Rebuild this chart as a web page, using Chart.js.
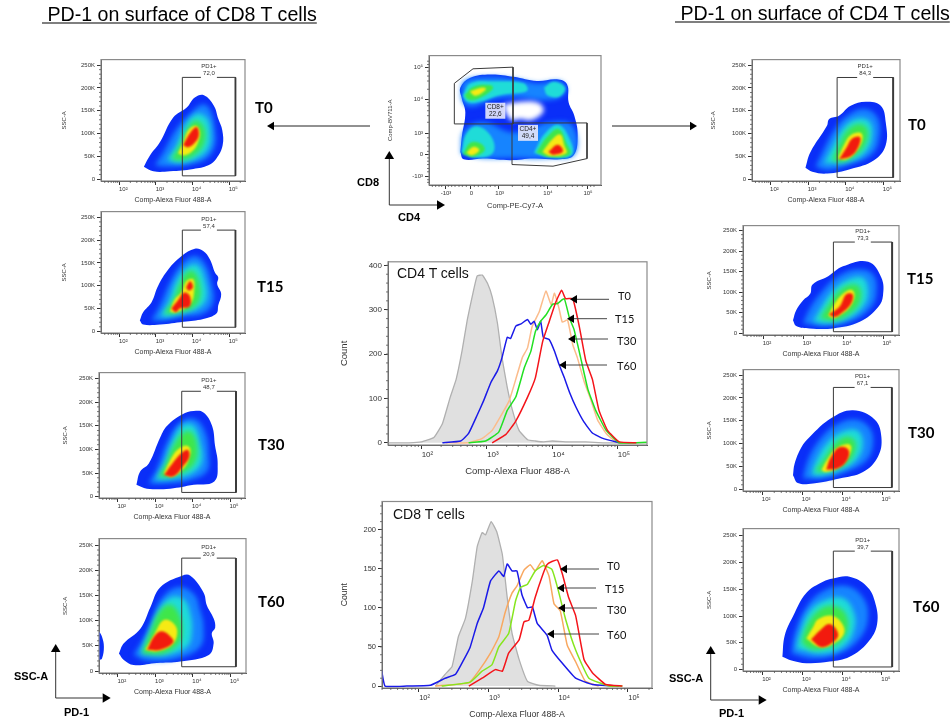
<!DOCTYPE html>
<html><head><meta charset="utf-8">
<script src="https://cdn.jsdelivr.net/npm/chart.js@4/dist/chart.umd.js"></script>
<style>
html,body{margin:0;padding:0;background:#fff;width:952px;height:725px;overflow:hidden}
#page{position:relative;width:952px;height:725px}
canvas{position:absolute;filter:blur(.3px)}
.t{position:absolute;white-space:pre;line-height:1;transform:translateY(-50%);color:#000}
.head{font:19.6px "Liberation Sans";text-decoration:underline;text-underline-offset:2px}
.time{font:bold 15px Lato}
.arrowlab{font:bold 11px "Liberation Sans"}
.hist{font:11px Lato;color:#111}
.plot{font:14px "Liberation Sans";color:#111}
svg{position:absolute;left:0;top:0;z-index:5}
.t{z-index:6}
</style></head><body><div id="page"></div>
<script>
// ---------- values: x = log10(PD-1 fluorescence), y = SSC-A in thousands ----------
const xTickExponents=[2,3,4,5];
const xTickLabels=['10²','10³','10⁴','10⁵'];
const ssTicks=[0,50,100,150,200,250];
const ssTickLabels=['0','50K','100K','150K','200K','250K'];

const cd8T0=[
[[2.67,27],[2.84,52],[3.11,81],[3.47,135],[3.84,157],[4.06,179],[4.31,184],[4.58,161],[4.70,132],[4.81,107],[4.82,74],[4.65,45],[4.43,30],[4.02,22],[3.38,17],[2.93,17]],
[[2.97,30],[3.2,59],[3.56,110],[3.97,146],[4.29,164],[4.49,150],[4.61,110],[4.61,74],[4.38,45],[3.93,32],[3.29,27]],
[[3.29,41],[3.56,74],[3.79,117],[4.11,143],[4.38,135],[4.49,103],[4.43,67],[4.11,45],[3.65,36]],
[[3.43,45],[3.65,74],[3.84,107],[4.06,128],[4.29,117],[4.34,88],[4.2,63],[3.88,45],[3.56,41]],
[[3.6,56],[3.75,81],[3.88,107],[4.09,117],[4.2,103],[4.15,81],[4.02,63],[3.79,52]],
[[3.74,74],[3.95,103],[4.11,114],[4.17,96],[4.05,79],[3.88,70]]];
const cd8T15=[
[[2.56,24],[2.65,42],[2.88,64],[3.06,100],[3.34,136],[3.7,165],[4.06,181],[4.29,176],[4.47,158],[4.61,129],[4.7,118],[4.67,104],[4.78,82],[4.7,57],[4.65,39],[4.29,27],[3.75,21],[3.11,15],[2.65,15]],
[[2.88,24],[3.11,57],[3.38,107],[3.7,147],[4.06,165],[4.34,147],[4.52,104],[4.56,64],[4.29,39],[3.75,32],[3.2,24]],
[[3.11,32],[3.34,64],[3.56,111],[3.88,143],[4.15,145],[4.34,111],[4.38,71],[4.15,50],[3.75,41],[3.29,32]],
[[3.22,39],[3.47,68],[3.65,104],[3.88,132],[4.06,129],[4.2,100],[4.18,68],[3.97,50],[3.61,41]],
[[3.38,44],[3.52,71],[3.7,86],[3.84,111],[4.02,114],[4.04,86],[3.97,64],[3.79,51],[3.52,41]],
[[3.42,50],[3.6,68],[3.77,85],[3.92,78],[3.92,55],[3.65,50],[3.54,42]],
[[3.82,96],[3.93,110],[4.01,97],[3.9,89]]];
const cd8T30=[
[[2.5,25],[2.6,53],[2.83,70],[3.14,126],[3.32,150],[3.72,174],[4.03,181],[4.29,178],[4.52,150],[4.6,108],[4.67,70],[4.58,32],[4.03,25],[3.4,17],[2.78,17]],
[[2.83,28],[3.05,60],[3.32,115],[3.67,157],[4.07,164],[4.34,136],[4.43,88],[4.38,53],[3.94,35],[3.32,28]],
[[3.0,35],[3.23,67],[3.45,115],[3.72,150],[4.03,150],[4.2,115],[4.25,74],[3.98,49],[3.49,39]],
[[3.09,42],[3.27,67],[3.49,108],[3.76,136],[3.98,136],[4.12,108],[4.07,74],[3.8,53],[3.4,42]],
[[3.23,49],[3.4,77],[3.58,98],[3.8,108],[3.94,101],[3.89,77],[3.76,60],[3.45,42]],
[[3.24,46],[3.43,67],[3.67,90],[3.87,99],[3.91,84],[3.74,64],[3.49,43]]];
const cd8T60=[
[[2.03,35],[2.16,55],[2.6,84],[2.87,127],[3.13,166],[3.71,189],[3.93,189],[4.28,156],[4.37,130],[4.55,104],[4.59,86],[4.5,75],[4.55,55],[4.42,32],[3.66,19],[3.04,16],[2.42,12],[2.16,22]],
[[2.42,32],[2.65,61],[2.87,94],[3.13,140],[3.58,166],[4.02,153],[4.19,120],[4.28,88],[4.19,48],[3.58,25],[2.78,21]],
[[2.6,35],[2.82,75],[3.09,120],[3.4,146],[3.75,143],[3.93,114],[3.97,75],[3.84,48],[3.31,32]],
[[2.65,35],[2.87,78],[3.13,120],[3.4,132],[3.62,114],[3.71,81],[3.62,55],[3.22,35]],
[[2.73,42],[2.96,71],[3.22,101],[3.49,94],[3.58,75],[3.44,52],[3.04,39]],
[[2.78,42],[2.98,70],[3.18,79],[3.42,67],[3.47,56],[3.13,42]]];
const cd8T60Negatives=[[1.45,78],[1.5,78],[1.58,68],[1.63,48],[1.58,25],[1.5,22],[1.45,22]];
const cd4T0=[
[[2.93,25],[3.06,59],[3.5,117],[3.56,132],[3.82,139],[4.13,161],[4.53,170],[4.93,161],[5.06,125],[5.06,74],[4.75,41],[4.13,22],[3.51,12],[3.11,16]],
[[3.2,27],[3.38,59],[3.69,107],[4.04,139],[4.49,154],[4.84,135],[4.88,88],[4.66,52],[4.04,30],[3.51,20]],
[[3.42,34],[3.64,70],[3.91,110],[4.26,132],[4.62,128],[4.71,96],[4.53,59],[4.04,38]],
[[3.64,41],[3.82,74],[4.04,107],[4.35,121],[4.57,110],[4.53,78],[4.26,52],[3.91,38]],
[[3.79,45],[3.95,74],[4.13,96],[4.4,101],[4.44,85],[4.26,59],[4.0,43]],
[[3.82,43],[4.02,69],[4.17,89],[4.38,92],[4.32,68],[4.13,50]]];
const cd4T15=[
[[2.75,32],[2.83,56],[3.0,80],[3.18,96],[3.24,119],[3.63,139],[4.0,163],[4.63,174],[4.96,135],[5.0,92],[4.88,64],[4.42,28],[3.75,12],[3.17,12],[2.83,18]],
[[3.0,24],[3.17,60],[3.46,100],[3.83,135],[4.33,155],[4.75,143],[4.83,96],[4.67,60],[4.17,28],[3.58,18]],
[[3.25,29],[3.46,64],[3.75,104],[4.13,131],[4.5,135],[4.63,100],[4.5,64],[4.08,34],[3.58,24]],
[[3.42,36],[3.63,68],[3.92,104],[4.21,119],[4.42,111],[4.42,76],[4.17,48],[3.83,32]],
[[3.63,44],[3.79,72],[4.0,96],[4.21,106],[4.29,92],[4.17,64],[3.92,44],[3.75,37]],
[[3.65,46],[3.92,66],[4.08,95],[4.24,95],[4.2,72],[3.96,49],[3.79,40]]];
const cd4T30=[
[[2.77,31],[2.81,56],[2.98,92],[3.18,114],[3.73,156],[4.27,173],[4.81,153],[4.98,114],[4.89,71],[4.52,38],[3.93,24],[3.27,13],[2.89,14]],
[[3.02,24],[3.14,63],[3.39,103],[3.81,139],[4.31,153],[4.68,135],[4.77,99],[4.6,63],[4.1,38],[3.52,24]],
[[3.23,31],[3.35,63],[3.64,103],[4.02,127],[4.39,128],[4.52,99],[4.35,63],[3.93,42],[3.52,31]],
[[3.31,38],[3.52,63],[3.81,99],[4.1,115],[4.31,107],[4.31,81],[4.1,56],[3.73,42]],
[[3.48,42],[3.64,67],[3.85,89],[4.14,99],[4.23,91],[4.1,63],[3.85,45],[3.6,38]],
[[3.6,43],[3.71,69],[3.93,92],[4.15,87],[4.13,65],[3.89,46]]];
const cd4T60=[
[[2.5,24],[2.56,64],[2.77,100],[3.1,143],[3.52,164],[3.77,170],[4.19,173],[4.61,156],[4.82,128],[4.88,85],[4.65,51],[4.19,24],[3.69,15],[3.1,12],[2.73,17]],
[[2.73,30],[2.81,67],[3.1,116],[3.52,146],[4.11,156],[4.53,134],[4.65,97],[4.44,58],[3.94,30],[3.27,21]],
[[2.85,39],[2.94,67],[3.19,110],[3.61,131],[4.03,133],[4.28,110],[4.32,79],[4.07,45],[3.52,30]],
[[2.98,51],[3.1,79],[3.36,107],[3.69,119],[4.03,110],[4.15,79],[3.94,51],[3.52,39],[3.19,39]],
[[3.1,58],[3.27,79],[3.4,94],[3.77,100],[4.03,82],[4.03,64],[3.77,48],[3.44,42]],
[[3.22,56],[3.44,73],[3.69,85],[3.9,67],[3.79,52],[3.48,42]]];

// CD4 T cells histogram
const cd4HistGrayX=[1.49,1.81,2.0,2.19,2.32,2.44,2.53,2.62,2.70,2.78,2.85,2.93,3.01,3.08,3.16,3.23,3.31,3.39,3.49,3.62,3.74,3.87,4.0,4.26,4.51,4.77,5.02,5.44];
const cd4HistGrayY=[0,0,2,12,43,103,143,207,277,333,376,378,359,329,270,192,125,73,28,7,4,2,4,2,2,0,0,0];
const cd4HistBlueX=[2.32,2.60,2.72,2.85,2.95,3.06,3.16,3.23,3.31,3.36,3.44,3.52,3.62,3.67,3.72,3.77,3.82,3.86,3.95,4.03,4.10,4.18,4.26,4.36,4.48,4.61,4.77,5.02];
const cd4HistBlueY=[0,4,21,62,95,136,162,192,238,235,263,268,278,267,274,255,274,238,233,207,177,147,114,80,47,22,10,0];
const cd4HistOrangeX=[2.37,2.72,2.93,3.08,3.23,3.34,3.44,3.54,3.62,3.69,3.80,3.90,3.98,4.03,4.10,4.15,4.23,4.31,4.38,4.48,4.59,4.69,4.82,4.97,5.12];
const cd4HistOrangeY=[0,0,10,28,65,95,143,192,214,262,296,342,311,337,303,272,277,221,192,140,95,51,21,2,0];
const cd4HistGreenX=[2.72,2.98,3.18,3.31,3.44,3.57,3.67,3.74,3.82,3.90,4.0,4.08,4.18,4.26,4.33,4.43,4.54,4.66,4.82,5.02,5.28,5.44];
const cd4HistGreenY=[0,4,24,73,103,169,206,251,274,288,312,314,325,281,255,192,121,73,28,0,0,1];
const cd4HistRedX=[3.08,3.29,3.44,3.62,3.74,3.85,3.95,4.05,4.14,4.20,4.31,4.41,4.51,4.61,4.71,4.84,5.02,5.28];
const cd4HistRedY=[0,19,49,103,147,228,273,317,344,325,325,262,184,143,73,28,2,0];
// CD8 T cells histogram
const cd8HistGrayX=[2.24,2.38,2.48,2.57,2.67,2.77,2.84,2.91,2.96,3.04,3.12,3.20,3.27,3.34,3.44,3.56,3.72,3.96];
const cd8HistGrayY=[0,15,25,63,86,134,178,196,193,210,197,168,113,67,34,6,1,0];
const cd8HistBlueX=[1.47,1.52,1.83,2.17,2.38,2.53,2.65,2.74,2.84,2.93,3.03,3.15,3.22,3.27,3.34,3.41,3.48,3.56,3.63,3.70,3.84,3.91,4.06,4.25,4.49,4.87];
const cd8HistBlueY=[20,0,0,1,10,15,34,50,80,100,134,147,140,156,147,147,117,100,101,80,65,46,29,10,2,0];
const cd8HistOrangeX=[2.24,2.72,2.86,3.03,3.15,3.24,3.34,3.41,3.51,3.60,3.67,3.77,3.87,3.94,4.03,4.13,4.25,4.39,4.58];
const cd8HistOrangeY=[0,4,19,42,63,94,119,128,148,155,147,160,140,105,96,52,31,6,0];
const cd8HistGreenX=[2.33,2.74,2.91,3.05,3.15,3.29,3.39,3.46,3.56,3.67,3.79,3.91,3.99,4.11,4.25,4.44,4.73,4.92];
const cd8HistGreenY=[0,5,19,27,50,67,109,126,130,147,154,149,126,84,46,10,0,0];
const cd8HistRedX=[2.72,2.91,3.10,3.20,3.29,3.44,3.51,3.58,3.67,3.77,3.84,3.91,3.99,4.06,4.15,4.25,4.37,4.49,4.68,4.92];
const cd8HistRedY=[0,10,21,19,42,59,82,84,113,140,155,159,161,143,113,90,34,17,2,0];

// CD4 / CD8 gating plot, biexponential display channels
const gateTickChannelsX=[48,124,209,354,474];
const gateTickLabelsX=['-10³','0','10³','10⁴','10⁵'];
const gateTickChannelsY=[25,92,155,260,355];
const gateTickLabelsY=['-10³','0','10³','10⁴','10⁵'];
const gateOuter=[[94,100],[99,150],[109,220],[99,260],[94,295],[124,325],[184,335],[254,328],[324,315],[384,320],[414,305],[419,250],[436,210],[446,150],[434,90],[394,78],[314,80],[244,75],[164,80],[104,78]];
const gateHole=[[224,244],[274,252],[326,250],[344,230],[336,213],[304,196],[274,200],[249,196],[232,215]];
const gateLightTop=[[96,270],[106,315],[184,328],[264,320],[324,308],[394,314],[412,285],[370,258],[264,265],[194,260],[134,238],[106,245]];
const gateLightBottom=[[96,95],[106,165],[164,190],[244,160],[304,170],[364,190],[430,180],[438,95],[364,82],[244,82],[164,82]];
const gateCyan=[
[[101,270],[124,308],[194,314],[284,308],[294,285],[214,272],[144,250],[114,252]],
[[345,295],[374,313],[408,295],[392,268],[355,272]],
[[97,98],[112,155],[144,178],[188,145],[192,98],[144,83]],
[[315,98],[347,155],[389,182],[424,135],[428,90],[364,84]]];
const gateGreen=[
[[107,272],[134,298],[186,302],[191,290],[149,262],[119,258]],
[[102,93],[124,128],[156,125],[167,105],[134,86]],
[[322,98],[352,143],[389,170],[412,128],[423,93],[364,85]]];
const gateYellow=[
[[122,283],[159,295],[171,290],[139,270]],
[[112,98],[134,116],[151,106],[129,90]],
[[340,100],[369,137],[394,153],[406,120],[412,96],[364,88]]];
const gateRed=[[358,100],[386,122],[402,102],[374,92]];
const cd8Gate=[[76,185],[76,308],[132,352],[252,357],[252,185]];
const cd4Gate=[[249,188],[474,188],[474,80],[372,57],[249,62]];

// ---------- drawing ----------
const page=document.getElementById('page');
const LEVEL_COLORS=['#0a2ef8','#1684ff','#1fdcd8','#3fe64a','#f6ea14','#f21a0e'];
const TICK_FONT='"Liberation Sans"';

function addCanvas(box,lp,bp){
  const c=document.createElement('canvas');
  const w=box[2]-box[0]+lp+4,h=box[3]-box[1]+4+bp;
  c.width=Math.round(w);c.height=Math.round(h);
  c.style.left=(box[0]-lp)+'px';c.style.top=(box[1]-4)+'px';
  c.style.width=c.width+'px';c.style.height=c.height+'px';
  page.appendChild(c);
  return c.getContext('2d');
}
const frame={id:'frame',afterDraw(ch){
  const {ctx,chartArea:a}=ch;
  ctx.save();ctx.strokeStyle='#8a8a8a';ctx.lineWidth=1.2;
  ctx.strokeRect(a.left,a.top,a.right-a.left,a.bottom-a.top);
  const mx=ch.options.plugins.frame.minorX||[],my=ch.options.plugins.frame.minorY||[];
  ctx.strokeStyle='#555';ctx.lineWidth=.8;ctx.beginPath();
  mx.forEach(v=>{const p=ch.scales.x.getPixelForValue(v);if(p>=a.left&&p<=a.right){ctx.moveTo(p,a.bottom);ctx.lineTo(p,a.bottom+2);}});
  my.forEach(v=>{const p=ch.scales.y.getPixelForValue(v);if(p>=a.top&&p<=a.bottom){ctx.moveTo(a.left,p);ctx.lineTo(a.left-2,p);}});
  ctx.stroke();ctx.restore();
}};
const blur={id:'blur',
  beforeDatasetsDraw(ch,_,o){ch.ctx.save();ch.ctx.filter='blur(.5px)';},
  afterDatasetDraw(ch,args,o){
    if(args.index===o.outerAt)ch.ctx.filter='blur(2.4px)';
    if(args.index===o.fineAt)ch.ctx.filter='blur(1.3px)';
    if(args.index===o.stopAt)ch.ctx.filter='none';
  },
  afterDatasetsDraw(ch){ch.ctx.restore();}
};
const gateText={id:'gateText',afterDatasetsDraw(ch,_,o){
  if(!o.lines)return;const {ctx}=ch;ctx.save();
  const cx=(ch.scales.x.getPixelForValue(o.x0)+ch.scales.x.getPixelForValue(o.x1))/2,ty=ch.scales.y.getPixelForValue(o.yTop);
  ctx.fillStyle='#fff';ctx.fillRect(cx-8,ty-1.5,16,3);
  ctx.fillStyle='#333';ctx.font='6px '+TICK_FONT;ctx.textAlign='center';ctx.textBaseline='middle';
  ctx.fillText(o.lines[0],cx,ty-11);ctx.fillText(o.lines[1],cx,ty-4);
  ctx.restore();
}};
const minorDecades=[];
[1,2,3,4,5].forEach(d=>{for(let m=2;m<10;m++)minorDecades.push(m*10**d);});

function logAxis(minE,maxE,title,fs,tfs,off){
  return {type:'logarithmic',min:10**minE,max:10**maxE,
    title:{display:true,text:title,color:'#333',font:{family:TICK_FONT,size:tfs},padding:0},
    afterBuildTicks:s=>{s.ticks=xTickExponents.map(e=>({value:10**e,major:true}));},
    afterFit:s=>{s.height=s.options.fixedH;},
    grid:{drawOnChartArea:false,tickLength:4,tickColor:'#333',tickWidth:1},
    border:{color:'#444',width:1},
    ticks:{autoSkip:false,maxRotation:0,padding:1,labelOffset:off,color:'#333',font:{family:TICK_FONT,size:fs},
      callback:v=>xTickLabels[xTickExponents.indexOf(Math.round(Math.log10(v)))]}};
}
function valueAxis(min,max,values,labels,title,fs,tfs,lp){
  return {type:'linear',min,max,
    title:{display:true,text:title,color:'#333',font:{family:TICK_FONT,size:tfs},padding:0},
    afterBuildTicks:s=>{s.ticks=values.map(v=>({value:v}));},
    afterFit:s=>{s.width=lp;},
    grid:{drawOnChartArea:false,tickLength:4,tickColor:'#333',tickWidth:1},
    border:{color:'#444',width:1},
    ticks:{autoSkip:false,padding:2,color:'#333',font:{family:TICK_FONT,size:fs},
      callback:v=>labels[values.indexOf(v)]}};
}
const poly=(pts,color)=>({data:[...pts,pts[0]].map(([e,k])=>({x:10**e,y:k})),showLine:true,fill:'shape',
  backgroundColor:color,borderWidth:0,pointRadius:0,tension:.4});

function density(p){
  const lp=p.lp||40,bp=p.bp||23;
  const ctx=addCanvas(p.box,lp,bp);
  const gate=[[p.gate[0],p.gate[2]],[p.gate[1],p.gate[2]],[p.gate[1],p.gate[3]],[p.gate[0],p.gate[3]],[p.gate[0],p.gate[2]]];
  const line=(pts,w)=>({data:pts.map(([e,k])=>({x:10**e,y:k})),showLine:true,fill:false,borderColor:'#3a3a3a',borderWidth:w,pointRadius:0,tension:0});
  const layers=p.levels.map((l,i)=>poly(l,LEVEL_COLORS[Math.min(i,5)]));
  const ds=[line([gate[1],gate[2]],1.8),line(gate,1),...layers.slice().reverse()];
  const outerAt=ds.length-1;
  if(p.extra)ds.push(poly(p.extra,LEVEL_COLORS[0]));
  new Chart(ctx,{type:'scatter',data:{datasets:ds},options:{
    responsive:false,animation:false,events:[],layout:{autoPadding:false,padding:{top:4,right:4}},
    scales:{x:{...logAxis(p.xr[0],p.xr[1],'Comp-Alexa Fluor 488-A',6,7,4),fixedH:bp},
            y:valueAxis(p.yr[0],p.yr[1],ssTicks,ssTickLabels,'SSC-A',6,6,lp)},
    plugins:{legend:{display:false},tooltip:{enabled:false},
      frame:{minorX:minorDecades,minorY:[10,20,30,40,60,70,80,90,110,120,130,140,160,170,180,190,210,220,230,240]},
      blur:{outerAt,fineAt:outerAt-3,stopAt:2},
      gateText:{lines:p.label,x0:10**p.gate[0],x1:10**p.gate[1],yTop:p.gate[2]}}
  },plugins:[blur,frame,gateText]});
}
const panels=[
 {box:[101,58,245,181],xr:[1.5,5.43],yr:[-4.3,262],gate:[3.72,5.17,223,7],label:['PD1+','72,0'],levels:cd8T0},
 {box:[101,209.7,245,333],xr:[1.5,5.43],yr:[-3.6,262.6],gate:[3.72,5.17,222,9],label:['PD1+','57,4'],levels:cd8T15},
 {box:[98.7,371,245,498.3],xr:[1.5,5.40],yr:[-2.8,262.5],gate:[3.71,5.16,223,9],label:['PD1+','48,7'],levels:cd8T30,lp:37},
 {box:[98.7,537.3,245.7,673.3],xr:[1.5,5.41],yr:[-3.9,262.7],gate:[3.7,5.14,224,8.5],label:['PD1+','20,9'],levels:cd8T60,extra:cd8T60Negatives,lp:37},
 {box:[751.7,58.3,899.3,181],xr:[1.51,5.44],yr:[-4.3,262.3],gate:[3.77,5.26,223,3.6],label:['PD1+','84,3'],levels:cd4T0,lp:42},
 {box:[743.3,223.7,899.3,335],xr:[1.5,5.4],yr:[-4,262],gate:[3.76,5.23,222,4],label:['PD1+','73,3'],levels:cd4T15,lp:37},
 {box:[743.3,368,899.3,491],xr:[1.52,5.42],yr:[-3.6,262],gate:[3.78,5.24,223,4],label:['PD1+','67,1'],levels:cd4T30,lp:37},
 {box:[743.3,526.7,899.3,671],xr:[1.51,5.43],yr:[-2.5,263],gate:[3.78,5.26,221,5],label:['PD1+','39,7'],levels:cd4T60,lp:37}
];
panels.forEach(density);

// gating plot (CD4 vs CD8)
(function(){
  const box=[428.7,54.3,600.7,185],lp=42,bp=25;
  const ctx=addCanvas(box,lp,bp);
  const shape=(pts,c)=>({data:[...pts,pts[0]].map(([x,y])=>({x,y})),showLine:true,fill:'shape',backgroundColor:c,borderWidth:0,pointRadius:0,tension:.4});
  const gl=pts=>({data:[...pts,pts[0]].map(([x,y])=>({x,y})),showLine:true,fill:false,borderColor:'#3a3a3a',borderWidth:1,pointRadius:0,tension:0});
  const ds=[gl(cd8Gate),gl(cd4Gate),shape(gateRed,LEVEL_COLORS[5]),
    ...gateYellow.map(s=>shape(s,LEVEL_COLORS[4])),...gateGreen.map(s=>shape(s,LEVEL_COLORS[3])),
    ...gateCyan.map(s=>shape(s,LEVEL_COLORS[2])),shape(gateHole,'#ffffff'),
    shape(gateLightTop,LEVEL_COLORS[1]),shape(gateLightBottom,LEVEL_COLORS[1]),shape(gateOuter,LEVEL_COLORS[0])];
  const gateLabels={id:'gateLabels',afterDatasetsDraw(ch){
    const c=ch.ctx;c.save();c.font='6.5px '+TICK_FONT;c.textAlign='center';c.textBaseline='middle';
    [[199,225,'CD8+','22,6'],[297,158,'CD4+','49,4']].forEach(([x,y,a,b])=>{
      const px=ch.scales.x.getPixelForValue(x),py=ch.scales.y.getPixelForValue(y);
      c.fillStyle='rgba(226,228,250,.92)';c.fillRect(px-10,py-8,20,16);
      c.fillStyle='#222';c.fillText(a,px,py-3.5);c.fillText(b,px,py+3.5);});
    c.restore();}};
  const xa=valueAxis(0,516,gateTickChannelsX,gateTickLabelsX,'Comp-PE-Cy7-A',6,7.5,0);
  xa.afterFit=s=>{s.height=bp;};xa.ticks.labelOffset=1;xa.ticks.padding=1;
  new Chart(ctx,{type:'scatter',data:{datasets:ds},options:{
    responsive:false,animation:false,events:[],layout:{autoPadding:false,padding:{top:4,right:4}},
    scales:{x:xa,y:valueAxis(0,392,gateTickChannelsY,gateTickLabelsY,'Comp-BV711-A',6,6,lp)},
    plugins:{legend:{display:false},tooltip:{enabled:false},
      frame:{minorX:[10,20,30,38,58,68,78,90,100,112,136,148,160,172,184,198,250,280,300,320,335,345,385,410,430,445,460,485,495],minorY:[8,16,40,50,62,72,82,102,118,130,143,190,210,225,240,250,290,315,330,345,365,375]},
      blur:{outerAt:ds.length-1,fineAt:ds.length-4,stopAt:2}}
  },plugins:[blur,frame,gateLabels]});
})();

function histogram(h){
  const ctx=addCanvas(h.box,h.lp,h.bp);
  const s=(xs,ys,col,w,extra)=>Object.assign({data:xs.map((x,i)=>({x:10**x,y:ys[i]})),showLine:true,fill:false,borderColor:col,borderWidth:w,pointRadius:0,tension:.12},extra||{});
  const ds=[s(h.red[0],h.red[1],'#f4141a',1.5),s(h.green[0],h.green[1],h.greenColor,1.5),s(h.blue[0],h.blue[1],'#1a1ae8',1.5),
    s(h.orange[0],h.orange[1],h.orangeColor,1.5),
    s(h.gray[0],h.gray[1],'#b0b0b0',1.3,{fill:'origin',backgroundColor:'#e0e0e0'})];
  new Chart(ctx,{type:'scatter',data:{datasets:ds},options:{
    responsive:false,animation:false,events:[],layout:{autoPadding:false,padding:{top:4,right:4}},
    scales:{x:{...logAxis(h.xr[0],h.xr[1],'Comp-Alexa Fluor 488-A',h.fs,h.tfs,6),fixedH:h.bp},
            y:valueAxis(h.yr[0],h.yr[1],h.yt,h.yt.map(String),'Count',h.fs,h.tfs,h.lp)},
    plugins:{legend:{display:false},tooltip:{enabled:false},frame:{minorX:minorDecades,minorY:h.minorY}}
  },plugins:[frame]});
}
const step=(a,b,d)=>{const r=[];for(let v=a;v<=b;v+=d)r.push(v);return r;};
histogram({box:[387.7,259.3,646.7,445],lp:49,bp:32,fs:8,tfs:9.5,greenColor:'#22e022',orangeColor:'#fbbc8c',xr:[1.49,5.443],yr:[-5,408],yt:[0,100,200,300,400],minorY:step(20,400,20),
  gray:[cd4HistGrayX,cd4HistGrayY],blue:[cd4HistBlueX,cd4HistBlueY],orange:[cd4HistOrangeX,cd4HistOrangeY],green:[cd4HistGreenX,cd4HistGreenY],red:[cd4HistRedX,cd4HistRedY]});
histogram({box:[381.7,499.3,651.7,688.7],lp:43,bp:32,fs:7.5,tfs:8.7,greenColor:'#86e61e',orangeColor:'#f8a860',xr:[1.476,5.344],yr:[-2.5,235.7],yt:[0,50,100,150,200],minorY:step(10,230,10),
  gray:[cd8HistGrayX,cd8HistGrayY],blue:[cd8HistBlueX,cd8HistBlueY],orange:[cd8HistOrangeX,cd8HistOrangeY],green:[cd8HistGreenX,cd8HistGreenY],red:[cd8HistRedX,cd8HistRedY]});

// ---------- text ----------
function text(s,x,y,cls){const d=document.createElement('div');d.className='t '+cls;d.textContent=s;d.style.left=x+'px';d.style.top=y+'px';page.appendChild(d);}
text(' PD-1 on surface of CD8 T cells',42,14,'head');
text(' PD-1 on surface of CD4 T cells',675,13,'head');
[['T0',255,107],['T15',257,286],['T30',258,444],['T60',258,601],['T0',908,124],['T15',907,278],['T30',908,432],['T60',913,606]].forEach(a=>text(a[0],a[1],a[2],'time'));
[['CD8',357,182],['CD4',398,217],['SSC-A',14,676],['PD-1',64,712],['SSC-A',669,678],['PD-1',719,713]].forEach(a=>text(a[0],a[1],a[2],'arrowlab'));
[['T0',618,295],['T15',615,318],['T30',617,340],['T60',617,365],['T0',607,565],['T15',605,588],['T30',607,609],['T60',607,634]].forEach(a=>text(a[0],a[1],a[2],'hist'));
text('CD4 T cells',397,273,'plot');text('CD8 T cells',393,514,'plot');

// ---------- arrows ----------
const NS='http://www.w3.org/2000/svg';
const svg=document.createElementNS(NS,'svg');svg.setAttribute('width',952);svg.setAttribute('height',725);page.appendChild(svg);
function arrow(x1,y1,x2,y2,sz,col){
  const l=document.createElementNS(NS,'line');
  const dx=Math.sign(x2-x1),dy=Math.sign(y2-y1);
  l.setAttribute('x1',x1);l.setAttribute('y1',y1);l.setAttribute('x2',x2-dx*sz);l.setAttribute('y2',y2-dy*sz);
  l.setAttribute('stroke',col);l.setAttribute('stroke-width',1);svg.appendChild(l);
  const p=document.createElementNS(NS,'polygon');const w=sz*.6;
  const pts=dx?[[x2,y2],[x2-dx*sz,y2-w],[x2-dx*sz,y2+w]]:[[x2,y2],[x2-w,y2-dy*sz],[x2+w,y2-dy*sz]];
  p.setAttribute('points',pts.join(' '));p.setAttribute('fill','#000');svg.appendChild(p);
}
[[370,126,267,126],[612,126,697,126]].forEach(a=>arrow(...a,7,'#222'));
[[389.3,205,389.3,151],[389.3,205,445,205],[55.7,698,55.7,644],[55.7,698,110.7,698],[710.7,700,710.7,646],[710.7,700,766.7,700]].forEach(a=>arrow(...a,8,'#333'));
[[609,299.3,570,299.3],[607,318.7,567,318.7],[608,339,568,339],[607,365,559,365],[599,569,560,569],[596,588,557,588],[597,608,558,608],[599,634,547,634]].forEach(a=>arrow(...a,7,'#444'));
</script></body></html>
